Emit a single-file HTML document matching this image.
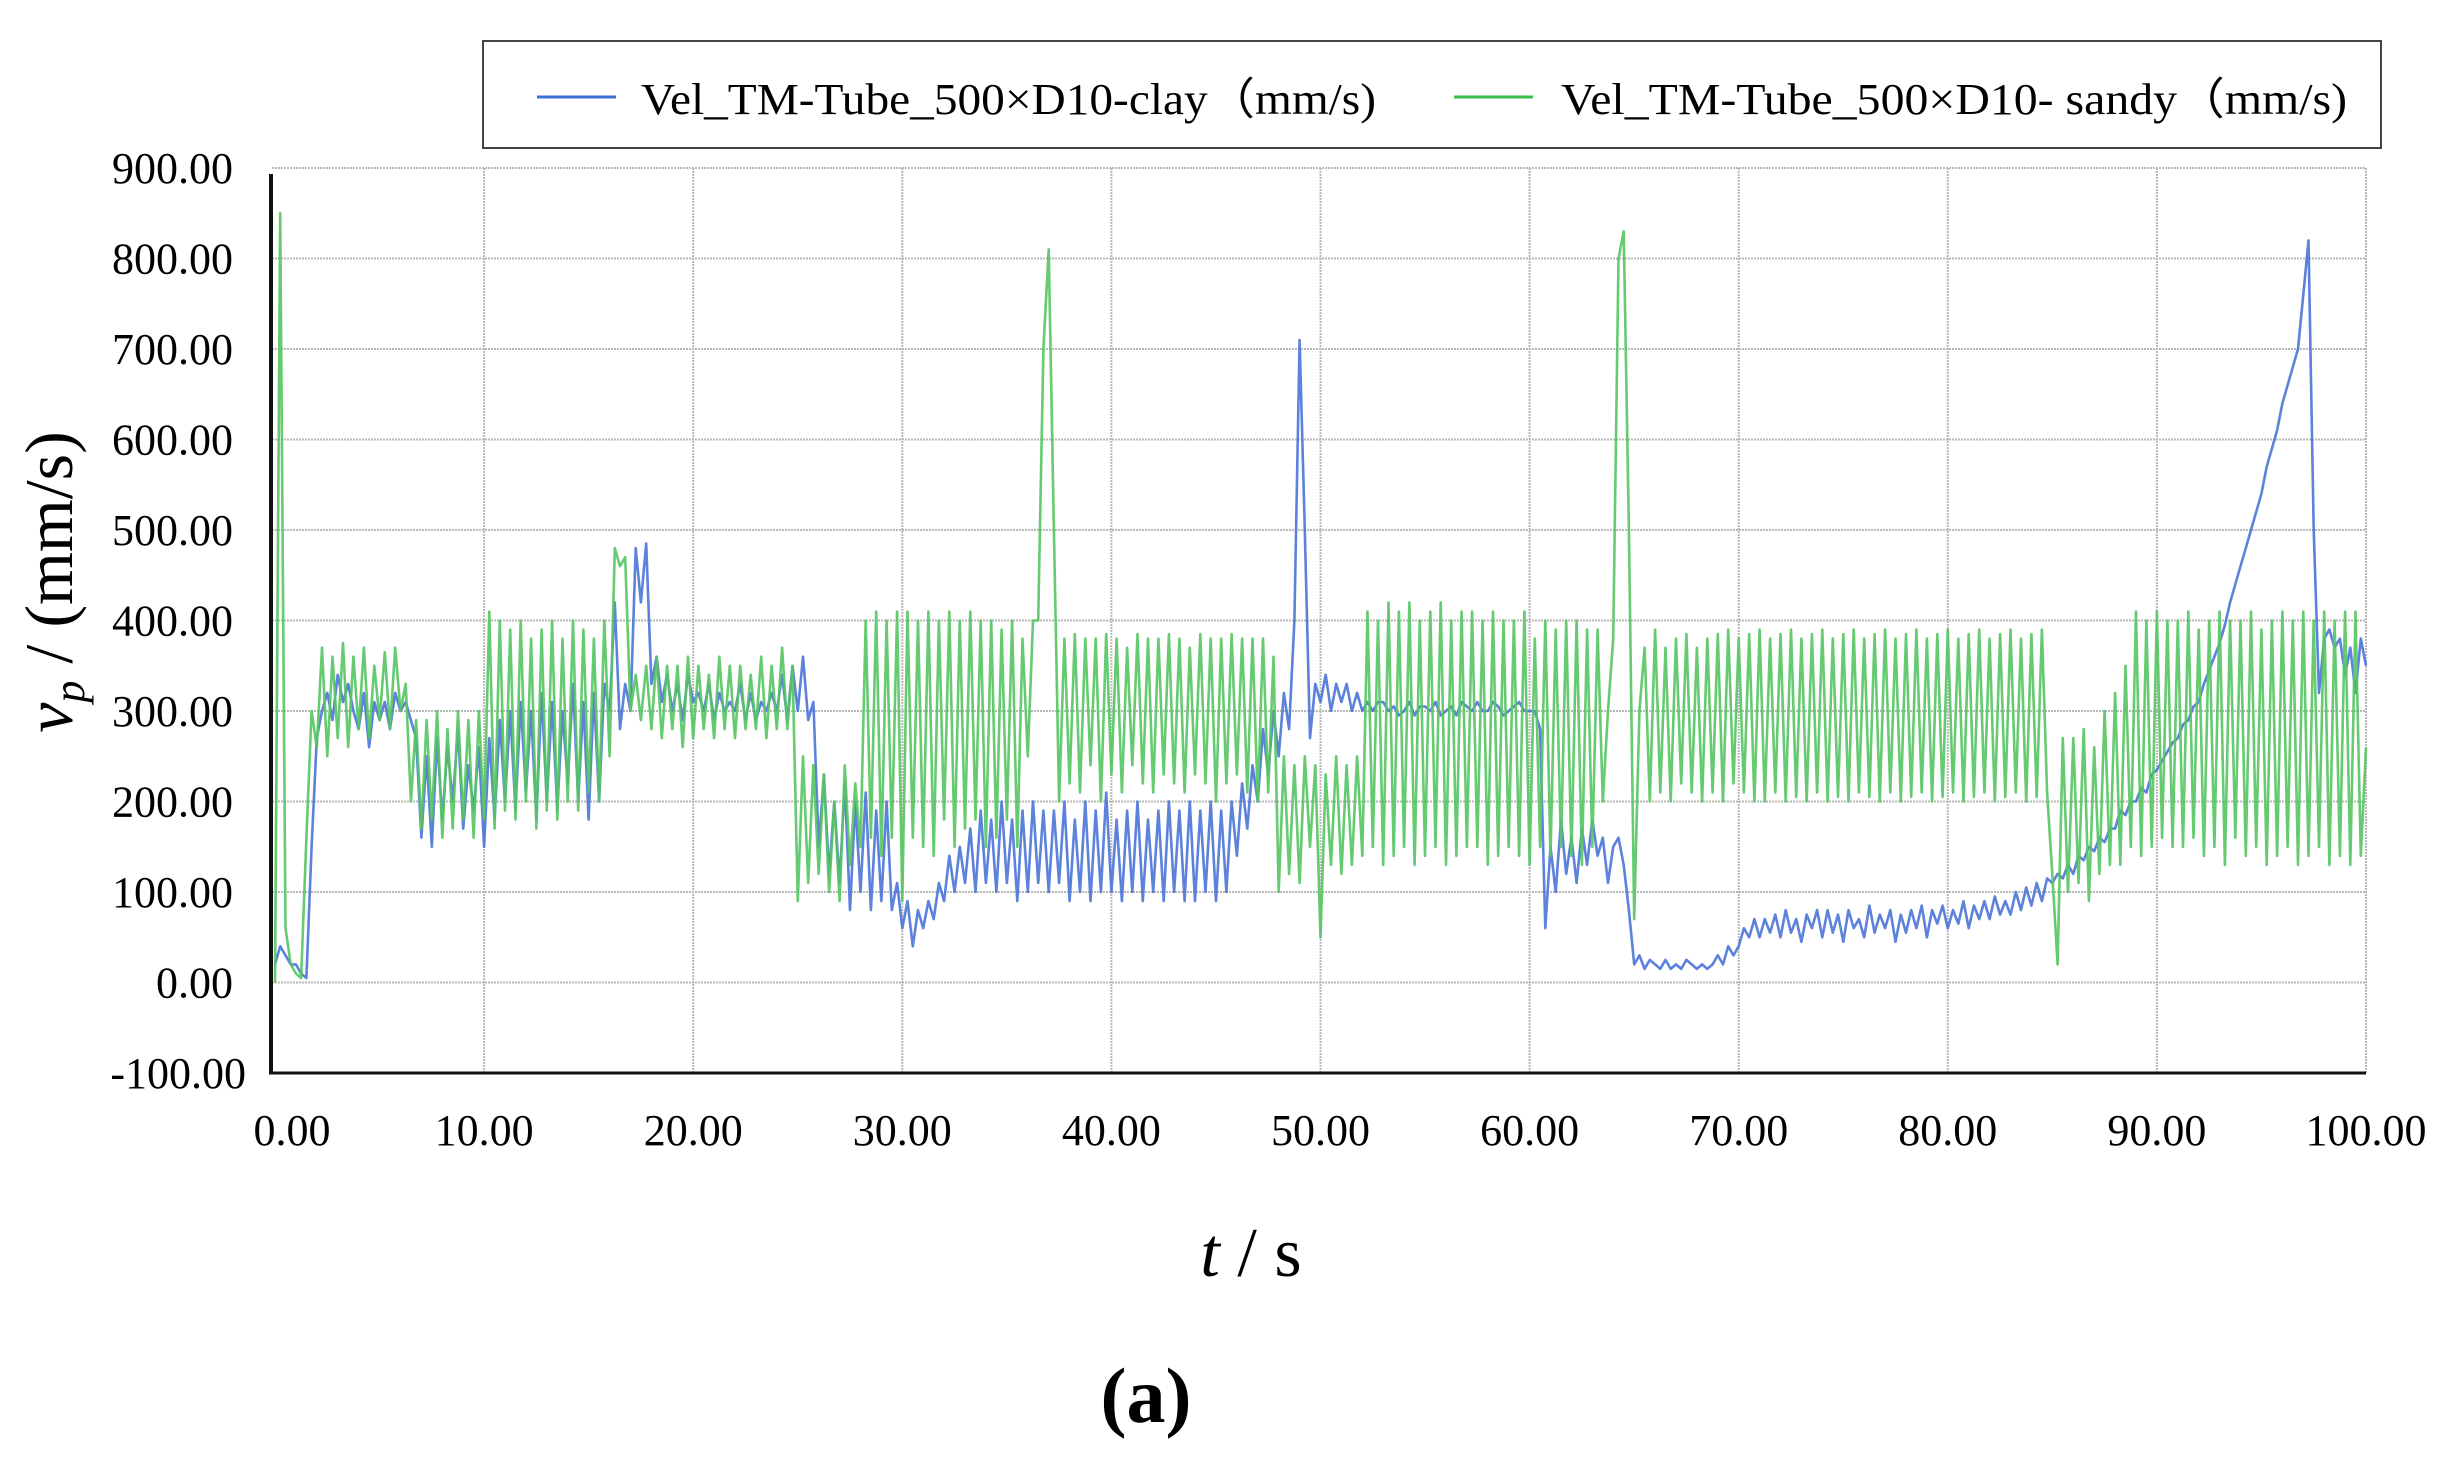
<!DOCTYPE html>
<html><head><meta charset="utf-8"><style>
html,body{margin:0;padding:0;background:#fff;}
svg{display:block;font-family:"Liberation Serif",serif;}
</style></head><body>
<svg id="chart" width="2456" height="1459" viewBox="0 0 2456 1459" xmlns="http://www.w3.org/2000/svg">
<g id="grid"></g>
<g id="series"></g>
<g id="axes"></g>
<g>
<rect x="483" y="41" width="1898" height="107" fill="#fff" stroke="#444" stroke-width="2"/>
<line x1="537" y1="97" x2="616" y2="97" stroke="#3d6fd6" stroke-width="3"/>
<text x="641" y="114" font-size="44" textLength="735" lengthAdjust="spacingAndGlyphs">Vel_TM-Tube_500×D10-clay（mm/s)</text>
<line x1="1454" y1="97" x2="1533" y2="97" stroke="#3cbc4c" stroke-width="3"/>
<text x="1561" y="114" font-size="44" textLength="786" lengthAdjust="spacingAndGlyphs">Vel_TM-Tube_500×D10- sandy（mm/s)</text>
</g>
<text transform="translate(72,582) rotate(-90)" text-anchor="middle" font-size="68"><tspan font-style="italic">v</tspan><tspan font-style="italic" font-size="44" dy="12">p</tspan><tspan dy="-12"> / (mm/s)</tspan></text>
<text x="1251" y="1276" text-anchor="middle" font-size="70"><tspan font-style="italic">t</tspan> / s</text>
<text x="1146" y="1422" text-anchor="middle" font-size="78" font-weight="bold">(a)</text>
</svg>
<script>
const tStep = 0.25;
const yTicks = [900,800,700,600,500,400,300,200,100,0,-100];
const xTicks = [0,10,20,30,40,50,60,70,80,90,100];
const sandy = [
0,850,60,20, 10,5,160,300, 260,370,250,360, 270,375,260,360, 280,370,270,350,
290,365,280,370, 300,330,200,290, 170,290,180,300, 160,280,170,300, 180,290,160,300,
180,410,170,400, 190,390,180,400, 200,380,170,390, 190,400,180,380, 200,400,190,390,
210,380,200,400, 250,480,460,470, 300,340,290,350, 280,360,270,350, 280,350,260,360,
270,350,280,340, 270,360,280,350, 270,350,280,340, 280,360,270,350, 280,370,280,350,
90,250,110,240, 120,230,100,200, 90,240,130,220, 150,400,160,410, 140,400,160,410,
90,410,160,400, 150,410,140,400, 180,410,150,400, 170,410,180,400, 150,400,160,390,
180,400,150,380, 250,400,400,700, 810,500,200,380, 220,385,210,380, 240,380,200,385,
230,380,210,370, 240,385,220,380, 210,380,230,385, 220,380,210,370, 230,385,220,380,
200,380,220,385, 230,380,210,380, 200,380,210,360, 100,250,120,240, 110,250,150,240,
50,230,130,250, 120,240,130,250, 140,410,150,400, 130,420,140,410, 150,420,130,400,
140,410,150,420, 130,400,140,410, 150,410,150,400, 130,410,140,400, 150,400,140,410,
130,380,150,400, 140,390,150,400, 140,400,130,390, 150,390,200,300, 380,800,830,500,
70,300,370,200, 390,210,370,200, 380,220,385,210, 370,200,380,210, 385,200,390,220,
380,210,385,200, 390,200,380,210, 385,200,390,205, 380,200,385,210, 390,200,380,205,
385,200,390,210, 380,205,385,200, 390,210,380,200, 385,205,390,210, 380,200,385,205,
390,210,380,200, 385,205,390,210, 380,200,385,205, 390,210,380,200, 385,205,390,210,
120,20,270,100, 270,110,280,90, 260,120,300,130, 320,130,350,150, 410,140,400,150,
410,160,400,150, 400,150,410,160, 390,140,400,150, 410,130,400,160, 400,140,410,150,
390,130,400,140, 410,150,400,130, 410,140,400,150, 410,130,400,140, 410,130,410,140,
260];
const clay = [
20,40,30,20, 20,10,5,150, 270,300,320,290, 340,310,330,300, 280,320,260,310,
290,310,280,320, 300,310,290,270, 160,250,150,270, 180,260,200,280, 170,240,190,260,
150,270,180,290, 200,300,190,310, 210,300,180,320, 200,310,190,300, 220,330,200,310,
180,320,200,330, 300,420,280,330, 300,480,420,485, 330,360,310,340, 300,330,290,340,
310,320,300,330, 290,320,300,310, 300,330,290,320, 290,310,300,320, 300,340,290,350,
300,360,290,310, 150,230,120,200, 110,220,80,200, 100,210,80,190, 90,200,80,110,
60,90,40,80, 60,90,70,110, 90,140,100,150, 110,170,100,190, 110,180,100,200,
110,180,90,190, 100,200,110,190, 100,190,110,200, 90,180,100,200, 90,190,100,210,
100,180,90,190, 100,200,90,180, 100,190,90,200, 100,190,90,200, 90,190,100,200,
90,190,100,200, 140,220,170,240, 200,280,230,300, 250,320,280,400, 710,500,270,330,
310,340,300,330, 310,330,300,320, 300,310,300,310, 310,300,305,295, 300,310,295,305,
305,300,310,295, 300,305,295,310, 305,300,310,300, 300,310,305,295, 300,305,310,300,
300,300,280,60, 150,100,180,120, 160,110,170,130, 180,140,160,110, 150,160,130,80,
20,30,15,25, 20,15,25,15, 20,15,25,20, 15,20,15,20, 30,20,40,30,
40,60,50,70, 50,70,55,75, 50,80,55,70, 45,75,60,80, 50,80,55,75,
45,80,60,70, 50,85,55,75, 60,80,45,75, 55,80,60,85, 50,80,65,85,
60,80,65,90, 60,85,70,90, 70,95,75,90, 75,100,80,105, 85,110,90,115,
110,120,115,130, 120,140,135,150, 145,160,155,170, 170,190,185,200, 200,215,210,230,
235,245,255,265, 270,285,290,305, 310,330,345,360, 375,395,420,440, 460,480,500,520,
540,570,590,610, 640,660,680,700, 760,820,500,320, 380,390,370,380, 340,370,320,380,
350];
const NS='http://www.w3.org/2000/svg';
const X0=275, XK=20.91, Y900=168, YK=0.905;
function xs(t){return X0+t*XK;}
function ys(v){return Y900+(900-v)*YK;}
function mk(tag,attrs,parent){const e=document.createElementNS(NS,tag);for(const k in attrs)e.setAttribute(k,attrs[k]);parent.appendChild(e);return e;}
const grid=document.getElementById('grid'), axes=document.getElementById('axes'), ser=document.getElementById('series');
yTicks.forEach(v=>{
  if(v>-100){
    const l=mk('line',{x1:272,x2:xs(100),y1:ys(v),y2:ys(v),stroke:'#b8b8b8','stroke-width':2,'stroke-dasharray':'2,1'},grid);
    
    
  }
  const tx=mk('text',{x:v<0?246:233,y:ys(v)+15,'text-anchor':'end','font-size':44},axes);
  tx.textContent=v.toFixed(2);
  
  
});
xTicks.forEach(t=>{
  if(t>0){
    const l=mk('line',{x1:xs(t),x2:xs(t),y1:ys(900),y2:ys(-100),stroke:'#b8b8b8','stroke-width':2,'stroke-dasharray':'2,1'},grid);
    
    
  }
  const tx=mk('text',{x:xs(t)+(t===0?17:0),y:1145,'text-anchor':'middle','font-size':44},axes);
  tx.textContent=t.toFixed(2);
  
  
});
function path(arr,color,name){
  let d='';
  arr.forEach((v,i)=>{d+=(i?'L':'M')+xs(i*tStep).toFixed(1)+','+ys(v).toFixed(1);});
  const p=mk('path',{d:d,fill:'none',stroke:color,'stroke-width':2.6,'stroke-linejoin':'round','stroke-opacity':0.9},ser);
  
  
}
path(clay,'#4a74d8','clay-series-line');
path(sandy,'#55c462','sandy-series-line');
const ya=mk('line',{x1:271,x2:271,y1:ys(900)+6,y2:ys(-100)+1,stroke:'#111','stroke-width':4},axes);


const xa=mk('line',{x1:269,x2:xs(100),y1:ys(-100),y2:ys(-100),stroke:'#111','stroke-width':3},axes);


</script>
</body></html>
